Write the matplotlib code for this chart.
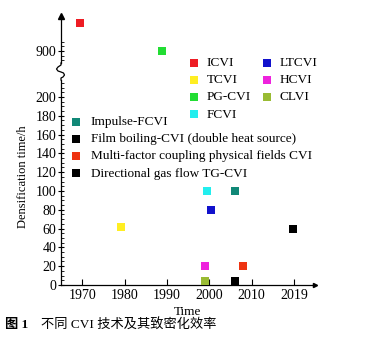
#!/usr/bin/env python3
"""Densification time of different CVI techniques (broken y axis)."""

import matplotlib

matplotlib.use("Agg")
import matplotlib.pyplot as plt
from matplotlib.lines import Line2D
from matplotlib.ticker import FixedLocator, MultipleLocator

# ---- data ----
techniques = [
    "ICVI", "TCVI", "PG-CVI", "FCVI", "LTCVI", "HCVI", "CLVI",
    "Impulse-FCVI",
    "Film boiling-CVI (double heat source)",
    "Multi-factor coupling physical fields CVI",
    "Directional gas flow TG-CVI",
]
years = [1969.4, 1979.2, 1988.8, 1999.6, 2000.5, 1999.0, 1999.0, 2006.1, 2006.0, 2008.0, 2019.8]
hours = [930, 62, 900, 100, 80, 20, 4, 100, 4, 20, 60]
colors = [
    "#ee1c24", "#ffee22", "#22dd33", "#22eeee", "#1111cc", "#ee22dd", "#99bb33",
    "#118877", "#000000", "#ee3311", "#000000",
]

xtick_pos = [1970, 1980, 1990, 2000, 2010, 2020]
xtick_labels = ["1970", "1980", "1990", "2000", "2010", "2019"]
upper_major = [900]
upper_minor = [890, 895, 905, 910]

W, H = 392, 338
plt.rcParams["font.family"] = ["Liberation Serif", "Noto Sans CJK SC"]
plt.rcParams["font.size"] = 9.5


def fx(px):
    return px / W


def fy(py):
    return 1 - py / H


fig = plt.figure(figsize=(W / 100, H / 100), dpi=100)
ax = fig.add_axes([fx(61), fy(285), fx(315 - 61), (285 - 80) / H])
ax_top = fig.add_axes([fx(61), fy(63), fx(315 - 61), (63 - 16) / H], sharex=ax)

handles = {}
for name, x, y, c in zip(techniques, years, hours, colors):
    target = ax_top if y > 500 else ax
    h = target.scatter(x, y, marker="s", s=26, color=c, linewidths=0, label=name, zorder=3)
    handles[name] = h

# lower axes
ax.set_xlim(1965, 2025)
ax.set_ylim(0, 218)
ax.set_xticks(xtick_pos)
ax.set_xticklabels(xtick_labels)
ax.yaxis.set_major_locator(FixedLocator(range(0, 201, 20)))
ax.yaxis.set_minor_locator(MultipleLocator(5))
ax.tick_params(axis="x", direction="in", length=4, width=0.8, pad=3, labelsize=10)
ax.tick_params(axis="y", which="major", direction="inout", length=5, width=0.8, pad=1, labelsize=10)
ax.tick_params(axis="y", which="minor", direction="in", length=2.5, width=0.6)
for side in ("top", "right"):
    ax.spines[side].set_visible(False)
ax.spines["left"].set_linewidth(0.9)
ax.spines["bottom"].set_linewidth(0.9)
ax.set_xlabel("Time", fontsize=9.5, labelpad=3)
ax.set_ylabel("Densification time/h", fontsize=9)
ax.yaxis.set_label_coords(-0.125, 0.527)
ax.plot(1, 0, ">", color="black", markersize=3, transform=ax.transAxes, clip_on=False)

# upper axes (after the break)
ax_top.set_ylim(887, 938)
ax_top.yaxis.set_major_locator(FixedLocator(upper_major))
ax_top.yaxis.set_minor_locator(FixedLocator(upper_minor))
ax_top.tick_params(axis="x", bottom=False, labelbottom=False)
ax_top.tick_params(axis="y", which="major", direction="inout", length=5, width=0.8, pad=1, labelsize=10)
ax_top.tick_params(axis="y", which="minor", direction="in", length=2.5, width=0.6)
for side in ("top", "right", "bottom"):
    ax_top.spines[side].set_visible(False)
ax_top.spines["left"].set_linewidth(0.9)
ax_top.patch.set_alpha(0)
ax_top.plot(0, 1, "^", color="black", markersize=5, transform=ax_top.transAxes, clip_on=False)

# squiggle joining the two spine segments
sq_x = [61, 61, 58, 56.5, 58, 61, 63.5, 64.5, 63, 61, 61]
sq_y = [63, 65, 67, 69, 71, 72, 73, 75, 77, 78, 80]
fig.add_artist(Line2D([fx(v) for v in sq_x], [fy(v) for v in sq_y], color="black", linewidth=0.9))

# legends
first = techniques[:7]
fig.legend(
    [handles[n] for n in first], first,
    loc="upper left", bbox_to_anchor=(fx(189), fy(57)), ncol=2,
    frameon=False, fontsize=9.5, borderpad=0, borderaxespad=0,
    handlelength=0.8, handletextpad=0.55, columnspacing=0.8, labelspacing=0.37,
    scatterpoints=1,
)
second = techniques[7:]
fig.legend(
    [handles[n] for n in second], second,
    loc="upper left", bbox_to_anchor=(fx(71), fy(116)), ncol=1,
    frameon=False, fontsize=9.5, borderpad=0, borderaxespad=0,
    handlelength=0.8, handletextpad=0.7, labelspacing=0.37,
    scatterpoints=1,
)

# caption
fig.text(fx(5), fy(325), "图 1", fontsize=9.5, fontweight="bold", va="center")
fig.text(fx(41), fy(325), "不同 CVI 技术及其致密化效率", fontsize=9.5, va="center")

fig.savefig("out.png", dpi=100)
